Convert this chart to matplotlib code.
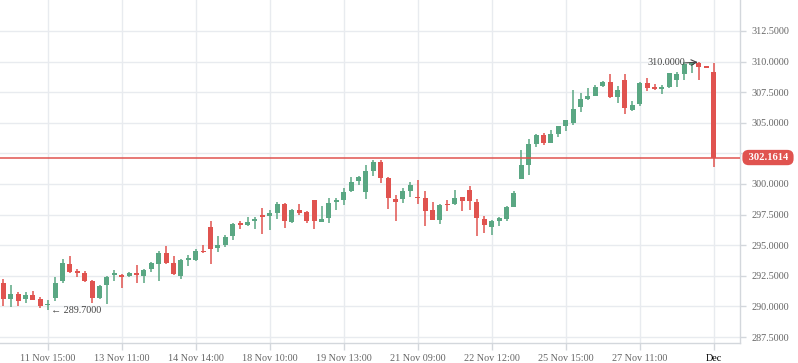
import matplotlib.pyplot as plt
import numpy as np

# hourly candles
opens = [291.89, 290.58, 291.01, 290.58, 290.93, 290.61, 290.14, 290.69, 292.10, 293.46,
         292.92, 292.73, 292.08, 290.71, 291.78, 292.62, 292.57, 292.51, 292.76, 292.51,
         293.06, 293.49, 294.36, 293.55, 292.51, 293.84, 293.82, 294.55, 296.49, 294.77,
         295.04, 295.78, 296.76, 296.65, 297.00, 297.47, 297.41, 297.66, 298.39, 296.90,
         297.88, 297.71, 298.69, 296.92, 297.25, 298.50, 298.69, 299.46, 300.27, 299.37,
         301.06, 301.80, 300.49, 298.77, 298.75, 299.46, 298.94, 298.86, 297.88, 297.06,
         298.37, 298.37, 298.94, 299.51, 298.53, 297.14, 296.51, 297.00, 297.17, 298.15,
         300.44, 301.58, 303.30, 303.98, 303.38, 304.11, 304.77, 304.98, 306.29, 306.94,
         307.22, 308.03, 308.33, 307.14, 308.50, 306.05, 306.56, 308.25, 307.87, 307.82,
         307.95, 308.52, 309.01, 309.78, 309.89, 309.59, 309.15]
highs = [292.24, 291.75, 291.20, 291.18, 291.26, 290.80, 290.52, 292.38, 293.85, 294.12,
         293.06, 292.92, 292.16, 291.75, 292.48, 292.97, 292.65, 292.78, 293.38, 293.08,
         293.63, 294.53, 294.94, 294.09, 293.85, 294.20, 294.66, 295.02, 296.98, 295.75,
         295.83, 296.84, 296.98, 297.30, 297.30, 298.07, 297.88, 298.53, 298.45, 297.99,
         298.37, 297.79, 298.72, 298.20, 298.86, 298.88, 299.67, 300.57, 300.65, 301.55,
         301.99, 301.93, 300.57, 299.10, 299.67, 300.16, 300.35, 299.46, 298.53, 298.37,
         298.69, 299.51, 298.97, 299.84, 298.75, 297.39, 297.03, 297.30, 298.23, 299.43,
         302.78, 303.68, 304.06, 304.14, 304.41, 304.76, 305.25, 307.68, 307.46, 307.84,
         308.09, 308.42, 308.99, 308.01, 308.99, 306.78, 308.33, 308.66, 308.17, 308.09,
         309.10, 309.15, 309.97, 309.97, 310.00, 309.67, 309.89]
lows = [290.03, 289.98, 290.06, 290.25, 290.50, 289.90, 289.70, 290.47, 291.94, 292.76,
        292.43, 292.00, 290.25, 290.61, 290.20, 292.10, 291.53, 292.38, 291.94, 291.94,
        292.84, 292.10, 293.46, 292.54, 292.27, 293.30, 293.71, 294.39, 293.49, 294.47,
        294.88, 295.45, 296.35, 296.57, 296.32, 295.92, 296.24, 297.17, 296.43, 296.85,
        297.47, 296.84, 296.35, 296.90, 296.84, 297.90, 298.31, 299.37, 299.95, 298.80,
        300.68, 300.11, 297.98, 297.00, 298.47, 298.96, 298.39, 296.59, 297.05, 296.73,
        297.82, 298.28, 297.82, 297.90, 295.78, 296.02, 295.83, 296.60, 297.00, 298.09,
        300.40, 300.73, 303.05, 303.21, 303.35, 303.84, 304.36, 304.85, 305.91, 306.86,
        307.20, 307.90, 307.03, 306.65, 305.75, 306.00, 306.40, 307.63, 307.68, 307.38,
        307.84, 307.95, 308.52, 309.07, 308.50, 309.45, 301.36]
closes = [290.58, 291.01, 290.41, 290.93, 290.55, 290.06, 290.20, 291.91, 293.55, 292.84,
          292.76, 292.05, 290.71, 291.67, 292.40, 292.67, 292.40, 292.73, 292.59, 292.97,
          293.55, 294.36, 293.55, 292.67, 293.79, 293.89, 294.53, 294.45, 294.72, 295.02,
          295.67, 296.73, 296.71, 296.90, 297.14, 297.33, 297.63, 298.39, 297.00, 297.88,
          297.66, 297.00, 297.00, 297.14, 298.45, 298.69, 299.35, 300.16, 300.57, 301.06,
          301.82, 300.52, 298.88, 298.56, 299.43, 299.92, 298.88, 297.82, 297.09, 298.28,
          298.31, 298.83, 298.64, 298.64, 297.25, 296.68, 296.98, 297.22, 298.12, 299.27,
          301.55, 303.27, 303.98, 303.38, 304.09, 304.74, 305.23, 306.10, 306.94, 307.19,
          307.92, 308.33, 307.11, 307.68, 306.24, 306.45, 308.25, 307.87, 307.82, 307.90,
          309.07, 308.99, 309.80, 309.83, 309.59, 309.50, 302.1614]

tick_pos = [6, 16, 26, 36, 46, 56, 66, 76, 86, 96]
tick_labels = ['11 Nov 15:00', '13 Nov 11:00', '14 Nov 14:00', '18 Nov 10:00', '19 Nov 13:00',
               '21 Nov 09:00', '22 Nov 12:00', '25 Nov 15:00', '27 Nov 11:00', 'Dec']
y_ticks = [287.5, 290.0, 292.5, 295.0, 297.5, 300.0, 302.5, 305.0, 307.5, 310.0, 312.5]

UP = '#5aa783'
DOWN = '#e0534f'
GRID = '#e8ebef'
AXIS = '#d3d7dc'
LABEL = '#666666'
FONT = ['Liberation Serif', 'DejaVu Sans']

plt.rcParams['font.family'] = FONT

o = np.array(opens)
h = np.array(highs)
l = np.array(lows)
c = np.array(closes)
x = np.arange(len(o))
up = c >= o
cols = np.where(up, UP, DOWN)

min_h = 0.12
body_lo = np.minimum(o, c)
body_h = np.abs(c - o)
small = body_h < min_h
body_lo = np.where(small, (o + c) / 2 - min_h / 2, body_lo)
body_h = np.where(small, min_h, body_h)

fig = plt.figure(figsize=(7.98, 3.63), dpi=100)
ax = fig.add_axes([0, 20 / 363, 740 / 798, 343 / 363])

ax.vlines(x, l, h, colors=cols, linewidth=1.1, zorder=3)
ax.bar(x, body_h, bottom=body_lo, width=0.66, color=cols, linewidth=0, zorder=4)

last = closes[-1]
ax.axhline(last, color=DOWN, linewidth=1.1, zorder=5)

ax.set_xlim(-0.45, 99.55)
ax.set_ylim(287.01, 315.03)

ax.yaxis.tick_right()
ax.set_yticks(y_ticks)
# the 302.5 label sits under the last-price tag, so it is left blank
ax.set_yticklabels(['' if abs(v - 302.5) < 1e-6 else '%.4f' % v for v in y_ticks])
ax.set_xticks(tick_pos)
ax.set_xticklabels(tick_labels)
ax.tick_params(axis='y', length=4, width=1, color=AXIS, labelcolor=LABEL, labelsize=7.3, pad=4)
ax.tick_params(axis='x', length=5, width=1, color=AXIS, labelcolor=LABEL, labelsize=7.3, pad=3)
ax.get_xticklabels()[-1].set_color('black')

ax.grid(True, color=GRID, linewidth=1.0, zorder=0)
ax.set_axisbelow(True)
for s in ['left', 'top']:
    ax.spines[s].set_visible(False)
for s in ['right', 'bottom']:
    ax.spines[s].set_color(AXIS)
    ax.spines[s].set_linewidth(1.0)

# high / low markers
i_hi = int(np.argmax(h))
i_lo = int(np.argmin(l))
ax.annotate('%.4f' % h[i_hi], xy=(i_hi, h[i_hi]), xytext=(-10, -1), textcoords='offset points',
            ha='right', va='center', fontsize=7.3, color='#444444', zorder=6)
ax.annotate('', xy=(i_hi - 0.15, h[i_hi] - 0.05), xytext=(-9, -0.5), textcoords='offset points',
            arrowprops=dict(arrowstyle='->', color='#444444', lw=0.8, shrinkA=0, shrinkB=0), zorder=6)
ax.annotate('← %.4f' % l[i_lo], xy=(i_lo, l[i_lo]), xytext=(2, -0.5), textcoords='offset points',
            ha='left', va='center', fontsize=7.3, color='#444444', zorder=6)

# last price tag on the axis
ax.annotate(' %.4f ' % last, xy=(1.0, last), xycoords=('axes fraction', 'data'),
            xytext=(4, 0), textcoords='offset points', ha='left', va='center',
            fontsize=7.6, color='white', fontweight='bold', zorder=7, annotation_clip=False,
            bbox=dict(boxstyle='round,pad=0.3,rounding_size=0.6', facecolor=DOWN, edgecolor='none'))

fig.savefig('out.png', dpi=100)
